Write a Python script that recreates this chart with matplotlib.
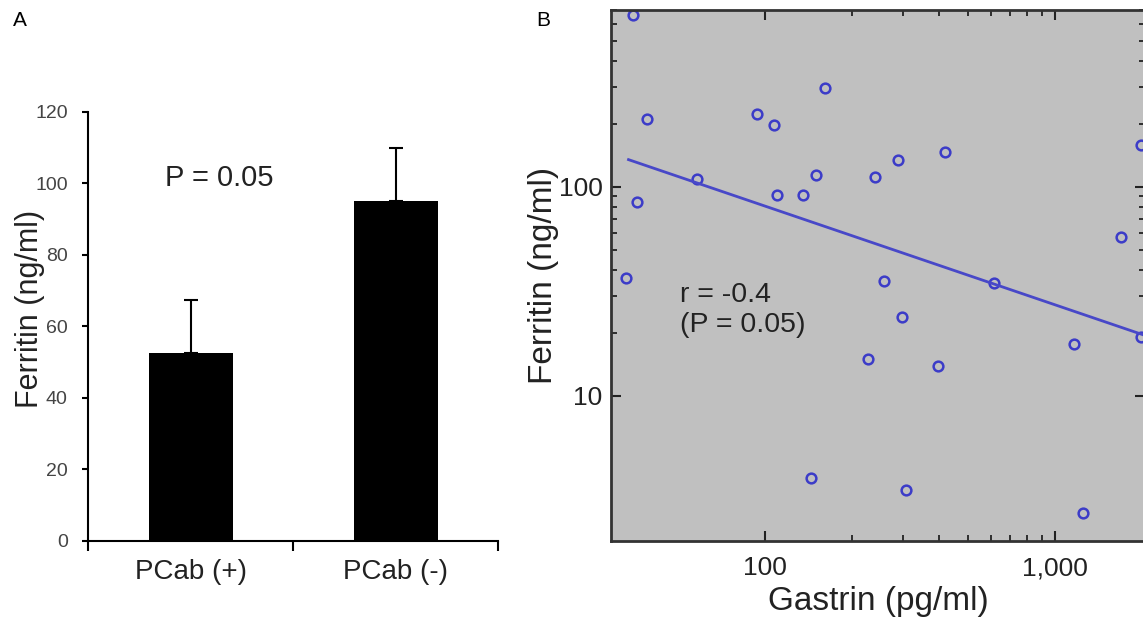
import matplotlib
matplotlib.use('Agg')
import matplotlib.pyplot as plt
from matplotlib.ticker import FixedLocator, FixedFormatter, NullFormatter

plt.rcParams['font.family'] = ['Liberation Sans', 'DejaVu Sans']

# ======================
# DATA
# ======================
groups = ['PCab (+)', 'PCab (-)']
ferritin_mean = [52.5, 95]
ferritin_err = [15, 15]
p_text_a = 'P = 0.05'

gastrin = [35.3, 39.4, 36.5, 33.4, 58.3, 94.3, 108, 110, 162, 136, 150, 240, 288,
           418, 258, 298, 227, 395, 616, 1159, 1683, 1978, 1975, 145, 307, 1245]
ferritin = [665, 211, 84.8, 36.7, 109, 223, 198, 91.6, 298, 91.6, 114, 112, 135,
            147, 35.5, 23.9, 15.0, 13.9, 34.8, 17.7, 57.7, 159, 19.1, 4.06, 3.55, 2.75]
fit_x = [34, 2100]
fit_y = [135, 19.2]
r_text = 'r = -0.4'
p_text_b = '(P = 0.05)'

fig = plt.figure(figsize=(11.43, 6.3), dpi=100)

# ======================
# PANEL A - BARS
# ======================
ax1 = fig.add_axes([0.077, 0.1413, 0.359, 0.681])
ax1.bar(range(len(groups)), ferritin_mean, width=0.41, color='black',
        yerr=[[0, 0], ferritin_err], capsize=4.7,
        error_kw=dict(ecolor='black', elinewidth=1.5, capthick=1.5))
ax1.set_xlim(-0.5, 1.5)
ax1.set_ylim(0, 120)
ax1.set_yticks(range(0, 121, 20))
ax1.set_xticks([0, 1])
ax1.set_xticklabels(groups, fontsize=20, color='#222222')
ax1.set_xticks([-0.5, 0.5, 1.5], minor=True)
ax1.tick_params(axis='x', which='major', length=0, pad=13)
ax1.tick_params(axis='x', which='minor', length=7, width=1.5, direction='out')
ax1.tick_params(axis='y', length=4.5, width=1.5, direction='out', pad=10,
                labelsize=14, labelcolor='#444444')
for s in ['top', 'right']:
    ax1.spines[s].set_visible(False)
for s in ['left', 'bottom']:
    ax1.spines[s].set_linewidth(1.5)
ax1.set_ylabel('Ferritin (ng/ml)', fontsize=22, color='#222222')
ax1.yaxis.set_label_coords(-0.105, 0.54)
ax1.text(-0.124, 101.5, p_text_a, fontsize=21, color='#222222', va='center', ha='left')

# ======================
# PANEL B - SCATTER
# ======================
ax2 = fig.add_axes([0.5346, 0.1413, 0.4672, 0.843])
ax2.set_facecolor('#c0c0c0')
ax2.set_xscale('log')
ax2.set_yscale('log')
ax2.plot(gastrin, ferritin, 'o', ms=7, mfc='none', mec='#3c3cc8', mew=1.8)
ax2.plot(fit_x, fit_y, color='#4848c8', lw=2)
ax2.set_xlim(29.6, 2043)
ax2.set_ylim(2.02, 703)

ax2.xaxis.set_major_locator(FixedLocator([100, 1000]))
ax2.xaxis.set_major_formatter(FixedFormatter(['100', '1,000']))
ax2.xaxis.set_minor_locator(FixedLocator([k * 100 for k in range(2, 10)]))
ax2.xaxis.set_minor_formatter(NullFormatter())
ax2.yaxis.set_major_locator(FixedLocator([10, 100]))
ax2.yaxis.set_major_formatter(FixedFormatter(['10', '100']))
ax2.yaxis.set_minor_locator(FixedLocator([k * 10 for k in range(2, 10)] +
                                         [k * 100 for k in range(2, 8)]))
ax2.yaxis.set_minor_formatter(NullFormatter())

ax2.tick_params(which='both', direction='in', top=True, right=True,
                colors='#222222', labelsize=19)
ax2.tick_params(which='major', length=7, width=1.5)
ax2.tick_params(which='minor', length=4, width=1.3)
ax2.tick_params(axis='x', pad=11)
ax2.tick_params(axis='y', pad=6)
for s in ax2.spines.values():
    s.set_linewidth(2)
    s.set_color('#333333')

ax2.set_xlabel('Gastrin (pg/ml)', fontsize=24, color='#222222')
ax2.set_ylabel('Ferritin (ng/ml)', fontsize=24, color='#222222')
ax2.yaxis.set_label_coords(-0.097, 0.5)
ax2.text(0.129, 0.463, r_text, transform=ax2.transAxes, fontsize=20.5,
         color='#222222', va='center', ha='left')
ax2.text(0.129, 0.407, p_text_b, transform=ax2.transAxes, fontsize=20.5,
         color='#222222', va='center', ha='left')

# panel letters
fig.text(0.011, 0.967, 'A', fontsize=15, va='center', ha='left')
fig.text(0.469, 0.967, 'B', fontsize=15, va='center', ha='left')

fig.savefig('out.png', dpi=100)
